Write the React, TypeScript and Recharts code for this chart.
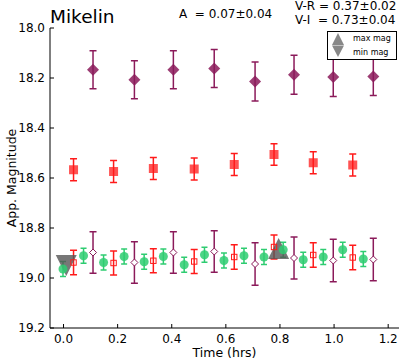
import React from 'react';
import { ComposedChart, Scatter, XAxis, YAxis, ErrorBar } from 'recharts';

// ---- data ----
const purpleTimes = [0.109, 0.262, 0.406, 0.557, 0.708, 0.852, 0.997, 1.145];
const purpleMags = [18.167, 18.207, 18.167, 18.162, 18.214, 18.187, 18.196, 18.194];
const purpleErrs = [0.076, 0.076, 0.076, 0.076, 0.078, 0.078, 0.078, 0.076];

const purpleOpenMags = [18.898, 18.938, 18.898, 18.894, 18.944, 18.920, 18.930, 18.926];
const purpleOpenErrs = [0.083, 0.083, 0.083, 0.083, 0.085, 0.084, 0.085, 0.085];

const redTimes = [0.037, 0.185, 0.332, 0.483, 0.631, 0.778, 0.923, 1.069];
const redMags = [18.567, 18.574, 18.562, 18.564, 18.546, 18.506, 18.539, 18.548];
const redErrs = [0.044, 0.044, 0.044, 0.044, 0.044, 0.043, 0.044, 0.044];

const redOpenMags = [18.938, 18.940, 18.931, 18.934, 18.916, 18.876, 18.908, 18.918];
const redOpenErrs = [0.049, 0.048, 0.048, 0.048, 0.049, 0.048, 0.049, 0.049];

const greenTimes = [-0.002, 0.074, 0.148, 0.224, 0.298, 0.369, 0.446, 0.521, 0.593, 0.667, 0.741, 0.812, 0.886, 0.960, 1.032, 1.108];
const greenMags = [18.964, 18.911, 18.938, 18.914, 18.935, 18.914, 18.947, 18.907, 18.930, 18.911, 18.916, 18.887, 18.927, 18.916, 18.887, 18.924];
const greenErrs = [0.03, 0.03, 0.03, 0.03, 0.03, 0.03, 0.03, 0.03, 0.03, 0.03, 0.03, 0.03, 0.03, 0.03, 0.03, 0.03];

const minMagTimes = [0.010];
const minMagValues = [18.95];
const maxMagTimes = [0.795];
const maxMagValues = [18.882];

const xTicks = [0.0, 0.2, 0.4, 0.6, 0.8, 1.0, 1.2];
const yTicks = [18.0, 18.2, 18.4, 18.6, 18.8, 19.0, 19.2];

const titleText = 'Mikelin';
const ampText = 'A  = 0.07\u00b10.04';
const vrText = 'V-R = 0.37\u00b10.02';
const viText = 'V-I  = 0.73\u00b10.04';

// ---- build tables ----
const build = (t: number[], m: number[], e?: number[]) =>
  t.map((x, i) => ({ x, y: m[i], err: e ? e[i] : 0 }));

const purpleData = build(purpleTimes, purpleMags, purpleErrs);
const purpleOpenData = build(purpleTimes, purpleOpenMags, purpleOpenErrs);
const redData = build(redTimes, redMags, redErrs);
const redOpenData = build(redTimes, redOpenMags, redOpenErrs);
const greenData = build(greenTimes, greenMags, greenErrs);
const minData = build(minMagTimes, minMagValues);
const maxData = build(maxMagTimes, maxMagValues);

const PURPLE = '#8b1a5a';
const RED = '#ff1a1a';
const GREEN = '#2ecc71';
const GREY = '#555555';
const FONT = 'DejaVu Sans, sans-serif';

const Diamond = (p: any) => {
  const { cx, cy } = p;
  const r = 6;
  return <path d={`M${cx},${cy - r}L${cx + r},${cy}L${cx},${cy + r}L${cx - r},${cy}Z`} fill={PURPLE} fillOpacity={0.85} />;
};
const OpenDiamond = (p: any) => {
  const { cx, cy } = p;
  const r = 3.5;
  return <path d={`M${cx},${cy - r}L${cx + r},${cy}L${cx},${cy + r}L${cx - r},${cy}Z`} fill="#fff" stroke={PURPLE} strokeWidth={1} />;
};
const Square = (p: any) => {
  const { cx, cy } = p;
  const r = 4.5;
  return <rect x={cx - r} y={cy - r} width={2 * r} height={2 * r} fill={RED} fillOpacity={0.75} />;
};
const OpenSquare = (p: any) => {
  const { cx, cy } = p;
  const r = 2.7;
  return <rect x={cx - r} y={cy - r} width={2 * r} height={2 * r} fill="none" stroke={RED} strokeWidth={1} />;
};
const Circle = (p: any) => {
  const { cx, cy } = p;
  return <circle cx={cx} cy={cy} r={4.5} fill={GREEN} fillOpacity={0.85} />;
};
const TriDown = (p: any) => {
  const { cx, cy } = p;
  const r = 10.5;
  return <path d={`M${cx - r},${cy - r}L${cx + r},${cy - r}L${cx},${cy + r}Z`} fill={GREY} fillOpacity={0.8} />;
};
const TriUp = (p: any) => {
  const { cx, cy } = p;
  const r = 10.5;
  return <path d={`M${cx - r},${cy + r}L${cx + r},${cy + r}L${cx},${cy - r}Z`} fill={GREY} fillOpacity={0.8} />;
};

const tickStyle = { fontSize: 12, fontFamily: FONT, fill: '#000' };
const blank = () => '';

export default function App() {
  return (
    <div style={{ position: 'absolute', left: 0, top: 0, width: 401, height: 362, background: '#fff' }}>
      <ComposedChart
        width={401}
        height={362}
        margin={{ top: 28, right: 2, bottom: 0, left: 0 }}
      >
        <XAxis
          xAxisId="b"
          type="number"
          dataKey="x"
          domain={[-0.05, 1.24]}
          allowDataOverflow
          ticks={xTicks}
          tickFormatter={(v: number) => v.toFixed(1)}
          height={34}
          tickSize={-4}
          tickMargin={10}
          tick={tickStyle}
          axisLine={{ stroke: '#000', strokeWidth: 1 }}
          tickLine={{ stroke: '#000' }}
        />
        <XAxis
          xAxisId="t"
          orientation="top"
          type="number"
          dataKey="x"
          domain={[-0.05, 1.24]}
          allowDataOverflow
          ticks={xTicks}
          tickFormatter={blank}
          height={0}
          tickSize={-4}
          axisLine={{ stroke: '#000', strokeWidth: 1 }}
          tickLine={{ stroke: '#000' }}
        />
        <YAxis
          yAxisId="l"
          type="number"
          dataKey="y"
          domain={[18.0, 19.2]}
          reversed
          allowDataOverflow
          ticks={yTicks}
          tickFormatter={(v: number) => v.toFixed(1)}
          width={50}
          tickSize={-4}
          tickMargin={9}
          tick={tickStyle}
          axisLine={{ stroke: '#000', strokeWidth: 1 }}
          tickLine={{ stroke: '#000' }}
        />
        <YAxis
          yAxisId="r"
          orientation="right"
          type="number"
          dataKey="y"
          domain={[18.0, 19.2]}
          reversed
          allowDataOverflow
          ticks={yTicks}
          tickFormatter={blank}
          width={0}
          tickSize={-4}
          axisLine={{ stroke: '#000', strokeWidth: 1 }}
          tickLine={{ stroke: '#000' }}
        />
        <Scatter xAxisId="b" yAxisId="l" data={minData} dataKey="y" shape={TriDown} isAnimationActive={false} />
        <Scatter xAxisId="b" yAxisId="l" data={maxData} dataKey="y" shape={TriUp} isAnimationActive={false} />
        <Scatter xAxisId="b" yAxisId="l" data={greenData} dataKey="y" shape={Circle} isAnimationActive={false}>
          <ErrorBar dataKey="err" direction="y" width={3} stroke={GREEN} strokeWidth={1.5} />
        </Scatter>
        <Scatter xAxisId="b" yAxisId="l" data={redOpenData} dataKey="y" shape={OpenSquare} isAnimationActive={false}>
          <ErrorBar dataKey="err" direction="y" width={3.5} stroke={RED} strokeWidth={1.5} />
        </Scatter>
        <Scatter xAxisId="b" yAxisId="l" data={purpleOpenData} dataKey="y" shape={OpenDiamond} isAnimationActive={false}>
          <ErrorBar dataKey="err" direction="y" width={3.5} stroke={PURPLE} strokeWidth={1.5} />
        </Scatter>
        <Scatter xAxisId="b" yAxisId="l" data={redData} dataKey="y" shape={Square} isAnimationActive={false}>
          <ErrorBar dataKey="err" direction="y" width={3.5} stroke={RED} strokeWidth={1.5} />
        </Scatter>
        <Scatter xAxisId="b" yAxisId="l" data={purpleData} dataKey="y" shape={Diamond} isAnimationActive={false}>
          <ErrorBar dataKey="err" direction="y" width={3.5} stroke={PURPLE} strokeWidth={1.5} />
        </Scatter>
      </ComposedChart>
      <svg
        width={401}
        height={362}
        style={{ position: 'absolute', left: 0, top: 0, pointerEvents: 'none' }}
        fontFamily={FONT}
      >
        <text x={50} y={23} fontSize={18.5} fill="#000">{titleText}</text>
        <text x={179} y={18} fontSize={12} fill="#000" style={{ whiteSpace: 'pre' }} xmlSpace="preserve">{ampText}</text>
        <text x={295} y={10} fontSize={12} fill="#000" style={{ whiteSpace: 'pre' }} xmlSpace="preserve">{vrText}</text>
        <text x={295} y={23.5} fontSize={12} fill="#000" style={{ whiteSpace: 'pre' }} xmlSpace="preserve">{viText}</text>
        <text x={224.5} y={357} fontSize={12.5} textAnchor="middle" fill="#000">Time (hrs)</text>
        <text
          x={11}
          y={178}
          fontSize={12.5}
          textAnchor="middle"
          dominantBaseline="central"
          transform="rotate(-90 11 178)"
          fill="#000"
        >
          App. Magnitude
        </text>
        <rect x={327.5} y={31.5} width={69} height={28} fill="#fff" stroke="#000" strokeWidth={1} />
        <path d="M332,45L344,45L338,33Z" fill="#888" />
        <path d="M332,45.5L344,45.5L338,57Z" fill="#888" />
        <text x={353} y={41} fontSize={8} fill="#000">max mag</text>
        <text x={353} y={55} fontSize={8} fill="#000">min mag</text>
      </svg>
    </div>
  );
}
